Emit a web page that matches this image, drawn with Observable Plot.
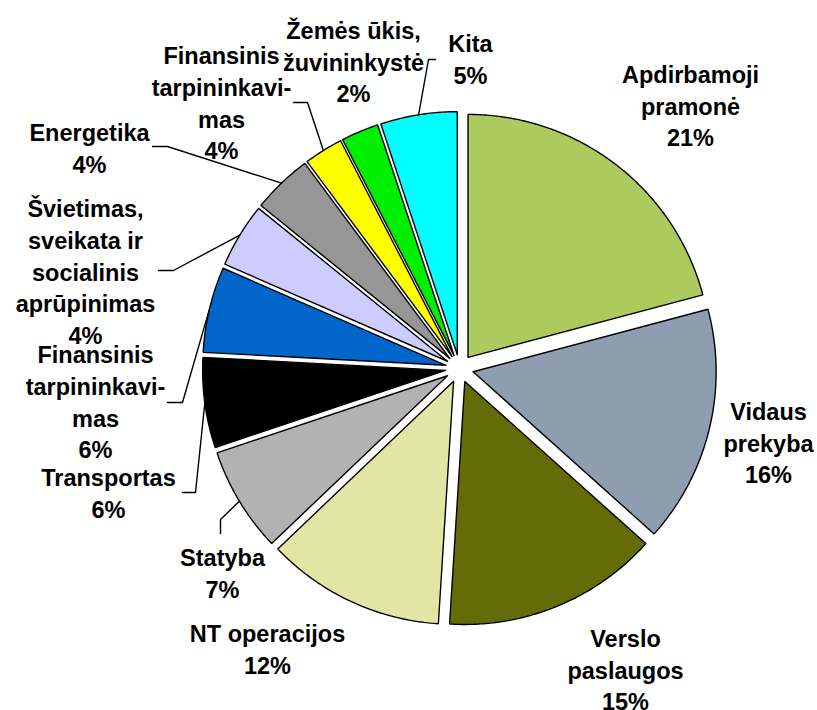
<!DOCTYPE html>
<html><head><meta charset="utf-8">
<script src="https://cdn.jsdelivr.net/npm/d3@7"></script>
<script src="https://cdn.jsdelivr.net/npm/@observablehq/plot@0.6"></script>
<style>body{margin:0;background:#fff}</style>
</head><body><div id="chart"></div>
<script>
// ---- data (clockwise from 12 o'clock) ----
const categories = [
  "Apdirbamoji\npramonė", "Vidaus\nprekyba", "Verslo\npaslaugos", "NT operacijos",
  "Statyba", "Transportas", "Finansinis\ntarpininkavi-\nmas",
  "Švietimas,\nsveikata ir\nsocialinis\naprūpinimas", "Energetika",
  "Finansinis\ntarpininkavi-\nmas", "Žemės ūkis,\nžuvininkystė", "Kita"
];
const shares = [20.9, 15.8, 14.4, 11.9, 7.0, 6.0, 5.7, 4.3, 4.0, 2.6, 2.5, 5.1];
const percentLabels = ["21%", "16%", "15%", "12%", "7%", "6%", "6%", "4%", "4%", "4%", "2%", "5%"];
const colors = ["#ADCA5E", "#8E9EB0", "#646C0A", "#E2E6A4", "#B2B2B2", "#000000",
  "#0066CC", "#CCCCFF", "#969696", "#FFFF00", "#00EE00", "#00FFFF"];

// ---- layout (pixels) ----
const W = 817, H = 710, CX = 459, CY = 368, R = 243, EXPLODE = 14;
// label block centres relative to pie centre (px)
const labelPos = [
  [231, -264], [309, 73], [166, 300], [-192, 279], [-237, 203], [-351, 123],
  [-364, 32], [-374, -98], [-370, -222], [-238, -267], [-106, -308], [11, -311]
];
// leader lines: slice index, tail and elbow relative to pie centre (px)
const leaders = [
  {i: 11, tail: [-24, -309], elbow: [-31, -309]},
  {i: 9, tail: [-166, -266], elbow: [-152, -266]},
  {i: 8, tail: [-307, -222], elbow: [-292, -222]},
  {i: 7, tail: [-301, -98], elbow: [-286, -98]},
  {i: 6, tail: [-292, 34], elbow: [-277, 34]},
  {i: 5, tail: [-277, 124], elbow: [-264, 124]},
  {i: 4, tail: [-239, 165], elbow: [-239, 151]}
];

const ex = EXPLODE / R;
const arcs = d3.pie().sort(null).value(d => d).startAngle(0).endAngle(2 * Math.PI)(shares);

const slicePts = [];
arcs.forEach((a, i) => {
  const mid = (a.startAngle + a.endAngle) / 2;
  const ox = ex * Math.sin(mid), oy = -ex * Math.cos(mid);
  slicePts.push({k: i, x: ox, y: oy, c: colors[i]});
  const n = Math.max(2, Math.ceil((a.endAngle - a.startAngle) / 0.01));
  for (let j = 0; j <= n; j++) {
    const t = a.startAngle + (a.endAngle - a.startAngle) * j / n;
    slicePts.push({k: i, x: ox + Math.sin(t), y: oy - Math.cos(t), c: colors[i]});
  }
  slicePts.push({k: i, x: ox, y: oy, c: colors[i]});
});

const leaderPts = [];
leaders.forEach((l, j) => {
  const a = arcs[l.i];
  const mid = (a.startAngle + a.endAngle) / 2;
  const ox = ex * Math.sin(mid), oy = -ex * Math.cos(mid);
  leaderPts.push({k: j, x: l.tail[0] / R, y: l.tail[1] / R});
  leaderPts.push({k: j, x: l.elbow[0] / R, y: l.elbow[1] / R});
  leaderPts.push({k: j, x: ox + Math.sin(mid), y: oy - Math.cos(mid)});
});

const labels = categories.map((c, i) => ({
  text: c + "\n" + percentLabels[i],
  x: labelPos[i][0] / R,
  y: labelPos[i][1] / R
}));

const chart = Plot.plot({
  width: W, height: H, margin: 0,
  x: {domain: [-CX / R, (W - CX) / R], range: [0, W], axis: null},
  y: {domain: [-CY / R, (H - CY) / R], range: [0, H], axis: null},
  color: {type: "identity"},
  style: {background: "white"},
  marks: [
    Plot.line(slicePts, {x: "x", y: "y", z: "k", fill: "c", stroke: "black", strokeWidth: 1.4, strokeLinejoin: "miter"}),
    Plot.line(leaderPts, {x: "x", y: "y", z: "k", stroke: "black", strokeWidth: 1.4}),
    Plot.text(labels, {x: "x", y: "y", text: "text", fontSize: 23.5, fontWeight: "bold",
      fontFamily: "Liberation Sans, Arial, sans-serif", lineHeight: 1.35, lineAnchor: "middle", fill: "black"})
  ]
});
document.getElementById("chart").appendChild(chart);
</script>
</body></html>
